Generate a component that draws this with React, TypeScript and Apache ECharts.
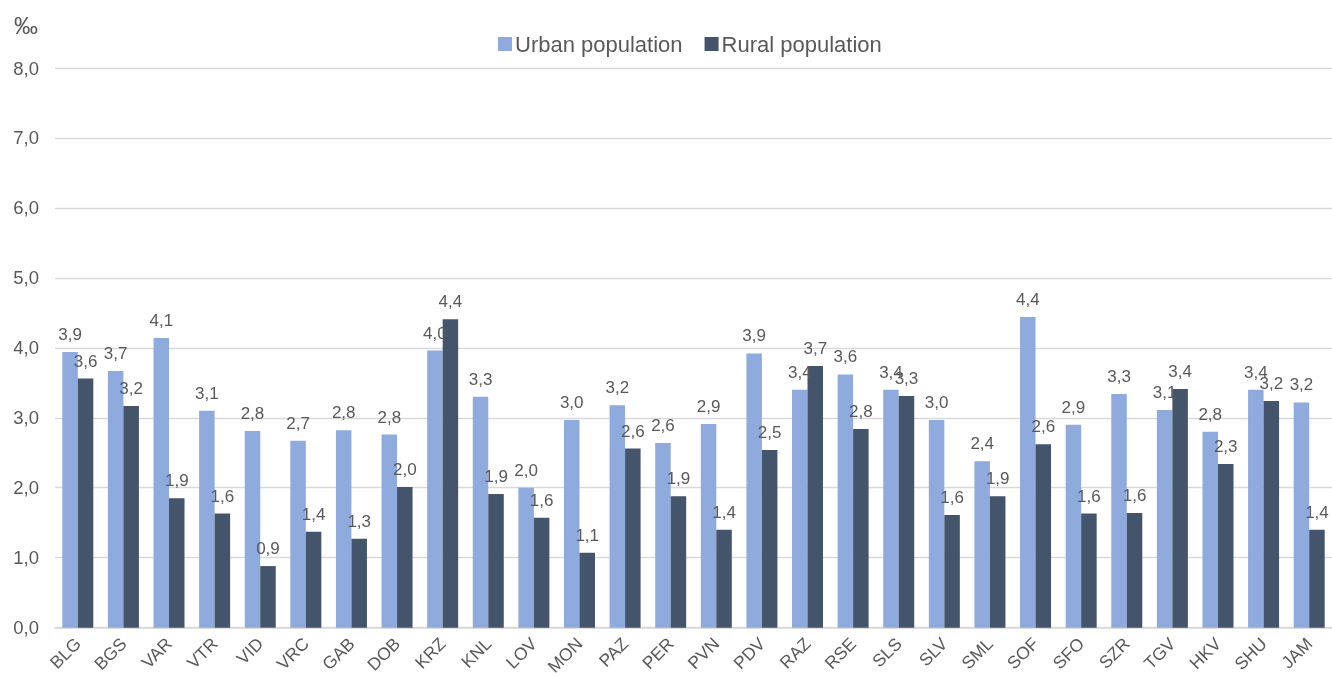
import React, { useEffect, useRef } from "react";
import * as echarts from "echarts";

const categories = ["BLG","BGS","VAR","VTR","VID","VRC","GAB","DOB","KRZ","KNL","LOV","MON","PAZ","PER","PVN","PDV","RAZ","RSE","SLS","SLV","SML","SOF","SFO","SZR","TGV","HKV","SHU","JAM"];
const urban = [3.94,3.67,4.14,3.10,2.81,2.67,2.82,2.76,3.96,3.30,2.00,2.97,3.18,2.64,2.91,3.92,3.40,3.62,3.40,2.97,2.38,4.44,2.90,3.34,3.11,2.80,3.40,3.22];
const rural = [3.56,3.17,1.85,1.63,0.88,1.37,1.27,2.01,4.41,1.91,1.57,1.07,2.56,1.88,1.40,2.54,3.74,2.84,3.31,1.61,1.88,2.62,1.63,1.64,3.41,2.34,3.24,1.40];
const yTicks = [0,1,2,3,4,5,6,7,8];

const fmt = (v: number) => v.toFixed(1).replace(".", ",");
const FONT = "Liberation Sans, Arial, sans-serif";
const TXT = "#595959";

export default function App() {
  const ref = useRef<HTMLDivElement>(null);
  useEffect(() => {
    if (!ref.current) return;
    const chart = echarts.init(ref.current, null, { renderer: "svg" });
    const labelOpt = {
      show: true,
      position: "top",
      distance: 9,
      color: TXT,
      fontSize: 17,
      fontFamily: FONT,
      formatter: (p: any) => fmt(p.value),
    };
    chart.setOption({
      animation: false,
      textStyle: { fontFamily: FONT },
      legend: {
        data: ["Urban population", "Rural population"],
        left: 493,
        top: 28,
        itemWidth: 14,
        itemHeight: 14,
        itemGap: 22,
        icon: "rect",
        textStyle: { color: TXT, fontSize: 22, fontFamily: FONT, padding: [0, 0, 0, -2] },
      },
      graphic: [
        { type: "text", left: 14, top: 13, style: { text: "‰", fill: TXT, fontSize: 24, fontFamily: FONT } },
      ],
      grid: { left: 55, top: 68, width: 1286, bottom: 49, containLabel: false },
      xAxis: {
        type: "category",
        data: categories,
        axisTick: { show: false },
        axisLine: { lineStyle: { color: "#d9d9d9", width: 1.5 } },
        axisLabel: { rotate: 45, color: TXT, fontSize: 17.5, fontFamily: FONT, margin: 13, interval: 0 },
      },
      yAxis: {
        type: "value",
        min: 0,
        max: 8,
        interval: 1,
        axisLine: { show: false },
        axisTick: { show: false },
        splitLine: { lineStyle: { color: "#d9d9d9", width: 1.3 } },
        axisLabel: { color: TXT, fontSize: 18.5, fontFamily: FONT, margin: 16, formatter: (v: number) => (yTicks.includes(v) ? fmt(v) : "") },
      },
      series: [
        { name: "Urban population", type: "bar", data: urban, barWidth: 15.5, barGap: "0%", itemStyle: { color: "#8faadc" }, label: labelOpt },
        { name: "Rural population", type: "bar", data: rural, barWidth: 15.5, barGap: "0%", itemStyle: { color: "#44546a" }, label: labelOpt },
      ],
    });
    return () => chart.dispose();
  }, []);
  return <div ref={ref} style={{ position: "fixed", left: 0, top: 0, width: 1332, height: 678 }} />;
}
